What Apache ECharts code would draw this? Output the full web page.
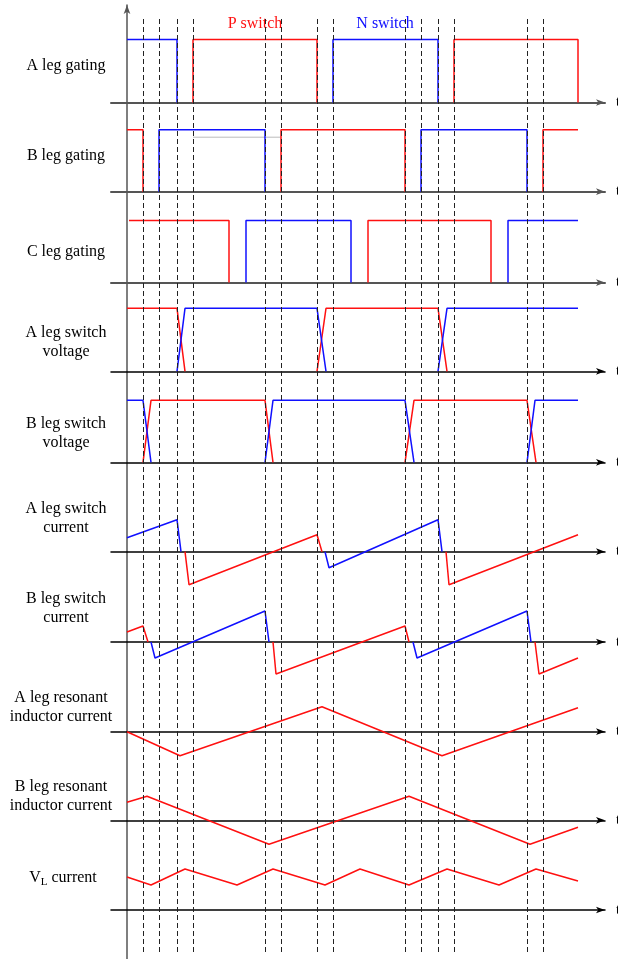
<!DOCTYPE html>
<html><head><meta charset="utf-8">
<script src="https://cdn.jsdelivr.net/npm/echarts@6/dist/echarts.min.js"></script>
<style>html,body{margin:0;padding:0;background:#fff}#c{width:618px;height:959px}</style>
</head><body><div id="c"></div>
<script>
// ---------------- data (time units, signal units) ----------------
const dashTimes = [1.6, 3.2, 5.0, 6.6, 13.8, 15.4, 19.0, 20.6, 27.8, 29.4, 31.1, 32.7, 40.0, 41.6];
const rowLabels = ['A leg gating', 'B leg gating', 'C leg gating', 'A leg switch\nvoltage', 'B leg switch\nvoltage',
  'A leg switch\ncurrent', 'B leg switch\ncurrent', 'A leg resonant\ninductor current', 'B leg resonant\ninductor current', '{v|V}{s|L}{v| current}'];
const axisName = 't';
const switchLabels = ['P switch', 'N switch'];

// row 1: A leg gating
const aGateRed  = [[[6.6,0],[6.6,6.3],[19.0,6.3],[19.0,0]], [[32.7,0],[32.7,6.3],[45.1,6.3],[45.1,0]]];
const aGateBlue = [[[0,6.3],[5.0,6.3],[5.0,0]], [[20.6,0],[20.6,6.3],[31.1,6.3],[31.1,0]]];
// row 2: B leg gating
const bGateRed  = [[[0,6.2],[1.6,6.2],[1.6,0]], [[15.4,0],[15.4,6.2],[27.8,6.2],[27.8,0]], [[41.6,0],[41.6,6.2],[45.1,6.2]]];
const bGateBlue = [[[3.2,0],[3.2,6.2],[13.8,6.2],[13.8,0]], [[29.4,0],[29.4,6.2],[40.0,6.2],[40.0,0]]];
const bGateGrey = [[[6.6,5.45],[15.3,5.45]]];
// row 3: C leg gating
const cGateRed  = [[[0.2,6.2],[10.2,6.2],[10.2,0]], [[24.1,0],[24.1,6.2],[36.4,6.2],[36.4,0]]];
const cGateBlue = [[[11.9,0],[11.9,6.2],[22.4,6.2],[22.4,0]], [[38.1,0],[38.1,6.2],[45.1,6.2]]];
// row 4: A leg switch voltage
const aVoltRed  = [[[0,6.3],[5.0,6.3],[5.8,0]], [[19.0,0],[19.9,6.3],[31.1,6.3],[32.0,0]]];
const aVoltBlue = [[[5.0,0],[5.8,6.3],[19.0,6.3],[19.9,0]], [[31.1,0],[32.0,6.3],[45.1,6.3]]];
// row 5: B leg switch voltage
const bVoltRed  = [[[1.6,0],[2.4,6.2],[13.8,6.2],[14.6,0]], [[27.8,0],[28.7,6.2],[40.0,6.2],[40.9,0]]];
const bVoltBlue = [[[0,6.2],[1.6,6.2],[2.4,0]], [[13.8,0],[14.6,6.2],[27.8,6.2],[28.7,0]], [[40.0,0],[40.8,6.2],[45.1,6.2]]];
// row 6: A leg switch current
const aCurRed  = [[[5.8,0],[6.2,-3.3],[19.0,1.7],[19.5,0]], [[31.9,0],[32.2,-3.3],[45.1,1.7]]];
const aCurBlue = [[[0,1.4],[5.0,3.2],[5.4,0]], [[19.8,0],[20.2,-1.6],[31.1,3.2],[31.5,0]]];
// row 7: B leg switch current
const bCurRed  = [[[0,1.0],[1.6,1.6],[2.1,0]], [[14.6,0],[14.9,-3.2],[27.8,1.6],[28.2,0]], [[40.8,0],[41.2,-3.2],[45.1,-1.6]]];
const bCurBlue = [[[2.4,0],[2.8,-1.6],[13.8,3.1],[14.2,0]], [[28.6,0],[29.0,-1.6],[40.0,3.1],[40.4,0]]];
// row 8: A leg resonant inductor current
const aResRed = [[[0,0],[5.3,-2.4],[19.5,2.5],[31.5,-2.4],[45.1,2.4]]];
// row 9: B leg resonant inductor current
const bResRed = [[[0,1.8],[2.0,2.4],[14.2,-2.4],[28.2,2.4],[40.3,-2.4],[45.1,-0.7]]];
// row 10: V_L current
const vlRed = [[[0,3.3],[2.4,2.5],[5.8,4.1],[11.0,2.5],[14.6,4.1],[19.8,2.5],[23.3,4.1],[28.2,2.5],[32.0,4.1],[37.2,2.5],[40.9,4.1],[45.1,2.9]]];

// ---------------- layout & style ----------------
const RED = '#ff1010', BLUE = '#1010ff', GREY = '#bbbbbb';
const rows = [
  {red: aGateRed, blue: aGateBlue},
  {red: bGateRed, blue: bGateBlue, grey: bGateGrey},
  {red: cGateRed, blue: cGateBlue},
  {red: aVoltRed, blue: aVoltBlue},
  {red: bVoltRed, blue: bVoltBlue},
  {red: aCurRed, blue: aCurBlue},
  {red: bCurRed, blue: bCurBlue},
  {red: aResRed},
  {red: bResRed},
  {red: vlRed}
];
const baseY = [102.5, 191.7, 282.6, 371.3, 462.3, 551.7, 642, 731.7, 820.3, 910];
const labelPos = [[66,66],[66,156],[66,252],[66,342],[66,433],[66,518],[66,608],[61,707],[61,796],[63,878]];
const XMIN = -1.6, XMAX = 47.8, LEFT = 111, RIGHT = 13;
const serif = '"Liberation Serif", "Times New Roman", serif';

const grid = [], xAxis = [], yAxis = [], series = [], graphic = [];
rows.forEach((r, i) => {
  grid.push({left: LEFT, right: RIGHT, top: baseY[i] - 70, height: 110, containLabel: false, outerBoundsMode: 'none'});
  const gate = i < 3;
  xAxis.push({type: 'value', gridIndex: i, min: XMIN, max: XMAX,
    axisLine: {show: true, onZero: true, symbol: ['none', 'arrow'], symbolSize: [5, 9], symbolOffset: [0, 0],
      lineStyle: {color: gate ? '#555' : '#000', width: gate ? 2 : 1.5}},
    axisTick: {show: false}, axisLabel: {show: false}, splitLine: {show: false},
    name: axisName, nameLocation: 'end', nameGap: 11,
    nameTextStyle: {fontFamily: serif, fontSize: 14, color: '#000'}});
  yAxis.push({type: 'value', gridIndex: i, min: -4, max: 7, show: false});
  const add = (segs, color, w) => (segs || []).forEach(seg => series.push({
    type: 'line', xAxisIndex: i, yAxisIndex: i, data: seg, symbol: 'none', showSymbol: false,
    silent: true, animation: false, z: color === GREY ? 1 : 3,
    lineStyle: {color, width: w}}));
  add(r.grey, GREY, 1);
  add(r.red, RED, 1.5);
  add(r.blue, BLUE, 1.5);
  graphic.push({type: 'text', x: labelPos[i][0], y: labelPos[i][1], silent: true,
    style: {text: rowLabels[i], fill: '#000', font: '16px ' + serif, align: 'center', verticalAlign: 'middle',
      lineHeight: 19,
      rich: {v: {fontFamily: serif, fontSize: 16, fill: '#000'}, s: {fontFamily: serif, fontSize: 11, fill: '#000', padding: [8, 0, 0, 0]}}}});
});

// dashed guide lines grid
grid.push({left: LEFT, right: RIGHT, top: 17, bottom: 7, outerBoundsMode: 'none'});
xAxis.push({type: 'value', gridIndex: 10, min: XMIN, max: XMAX, show: false});
yAxis.push({type: 'value', gridIndex: 10, min: 0, max: 1, show: false});
series.push({type: 'line', xAxisIndex: 10, yAxisIndex: 10, data: [], silent: true, animation: false,
  markLine: {silent: true, symbol: 'none', animation: false, label: {show: false},
    lineStyle: {type: [5, 3], color: '#222', width: 1},
    data: dashTimes.map(t => ({xAxis: t}))}});

// vertical axis grid
grid.push({left: LEFT, right: RIGHT, top: 5, bottom: 0, outerBoundsMode: 'none'});
xAxis.push({type: 'value', gridIndex: 11, min: XMIN, max: XMAX, show: false});
yAxis.push({type: 'value', gridIndex: 11, min: 0, max: 1,
  axisLine: {show: true, onZero: true, symbol: ['none', 'arrow'], symbolSize: [5, 9],
    lineStyle: {color: '#555', width: 1.5}},
  axisTick: {show: false}, axisLabel: {show: false}, splitLine: {show: false}});

graphic.push({type: 'text', x: 255, y: 24, silent: true,
  style: {text: switchLabels[0], fill: '#ff1010', font: '16px ' + serif, align: 'center', verticalAlign: 'middle'}});
graphic.push({type: 'text', x: 385, y: 24, silent: true,
  style: {text: switchLabels[1], fill: '#1010ff', font: '16px ' + serif, align: 'center', verticalAlign: 'middle'}});

const chart = echarts.init(document.getElementById('c'), null, {renderer: 'canvas'});
chart.setOption({animation: false, backgroundColor: '#fff', grid, xAxis, yAxis, series, graphic});
</script></body></html>
